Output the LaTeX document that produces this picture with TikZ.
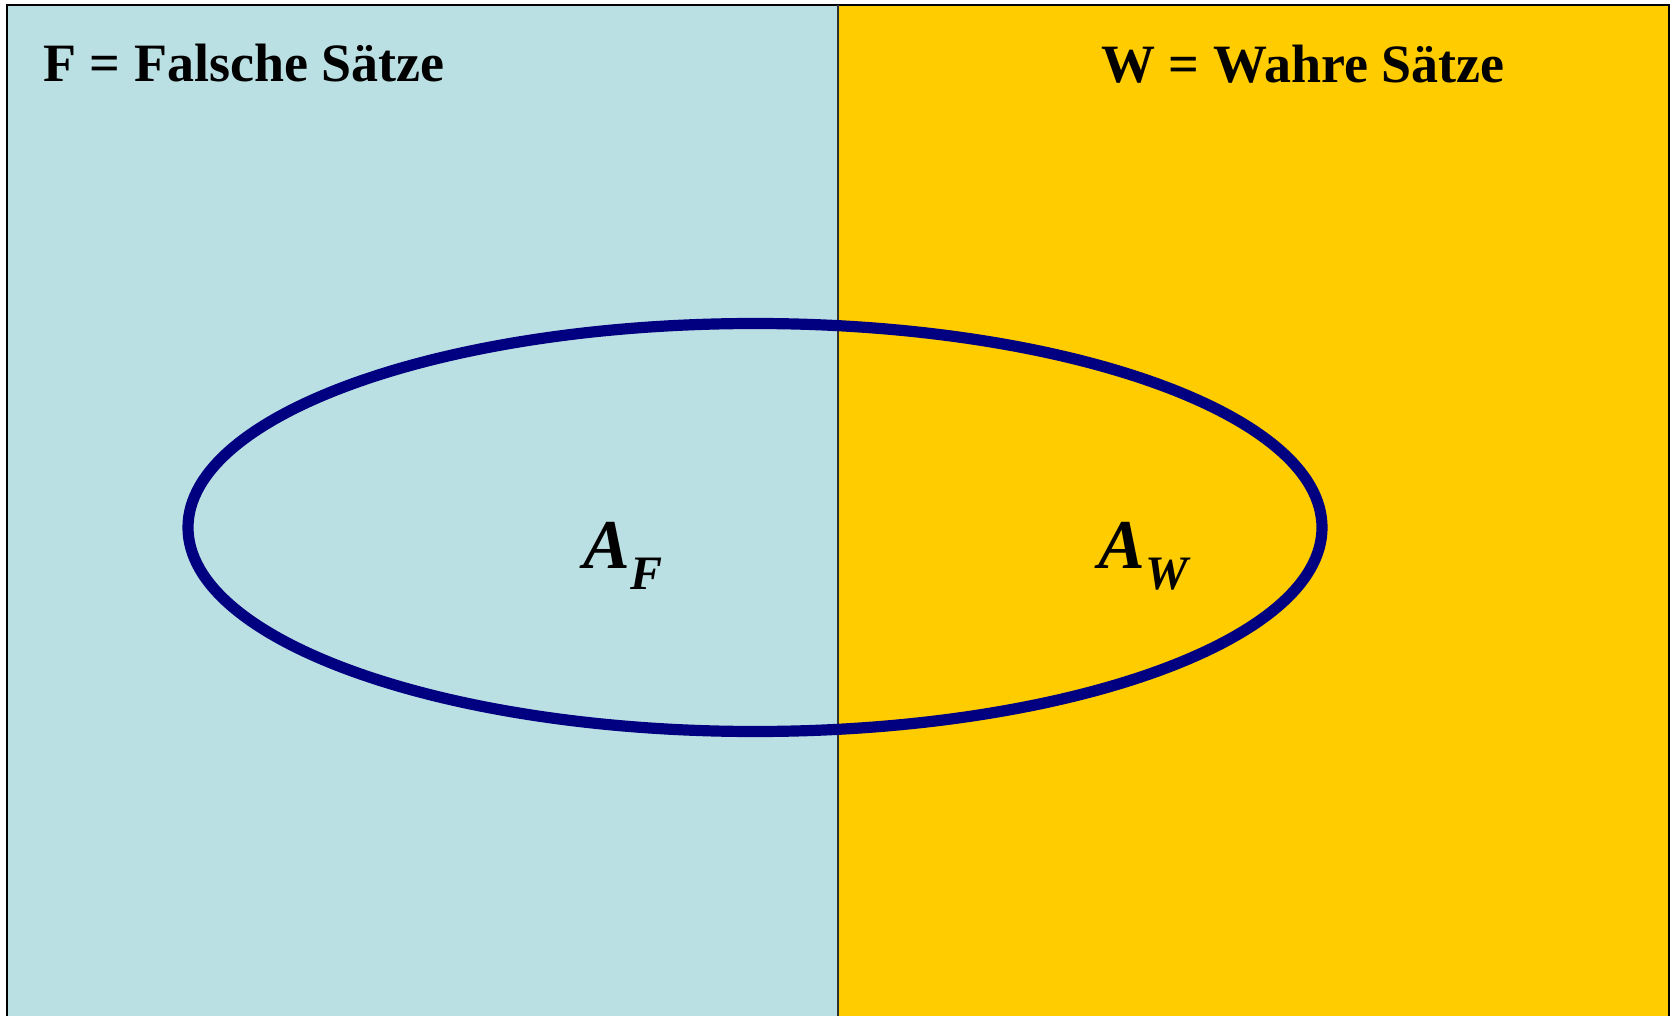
\documentclass[tikz,border=0pt]{standalone}
\usepackage{fontspec}
\setmainfont{Liberation Serif}
\usetikzlibrary{positioning}
\definecolor{falschblau}{RGB}{187,224,227}
\definecolor{wahrgelb}{RGB}{255,204,0}
\definecolor{mengenblau}{RGB}{0,0,128}
\begin{document}
\begin{tikzpicture}[x=0.5pt,y=-0.5pt,
  titel/.style={anchor=base west,inner sep=0pt,font=\fontsize{27}{32}\selectfont\bfseries},
  menge/.style={anchor=base west,inner sep=0pt,font=\fontsize{35}{40}\selectfont\bfseries\itshape}]

\tikzset{rand/.style={draw=black,line width=1pt}}

\useasboundingbox (0,0) rectangle (1672,1016);
\fill[white] (0,0) rectangle (1672,1016);
% die beiden Bereiche
\fill[falschblau] (7,5) rectangle (838,1020);
\fill[wahrgelb] (838,5) rectangle (1669,1020);
\draw[rand] (7,1020) -- (7,5) -- (1669,5) -- (1669,1020);
\draw[black!80,line width=0.8pt] (838,5) -- (838,1020);
% die Menge A
\draw[mengenblau,line width=5.6pt] (755,527.5) ellipse [x radius=283.5pt, y radius=102pt];

\node[titel] (falsch) at (43,82) {F = Falsche Sätze};
\node[titel] (wahr) at (1101,83) {W = Wahre Sätze};
\node[menge] (af) at (583,568) {A\raisebox{-10.5pt}{\fontsize{24}{28}\selectfont F}};
\node[menge] (aw) at (1098,568) {A\raisebox{-10.5pt}{\fontsize{24}{28}\selectfont W}};
\end{tikzpicture}
\end{document}
